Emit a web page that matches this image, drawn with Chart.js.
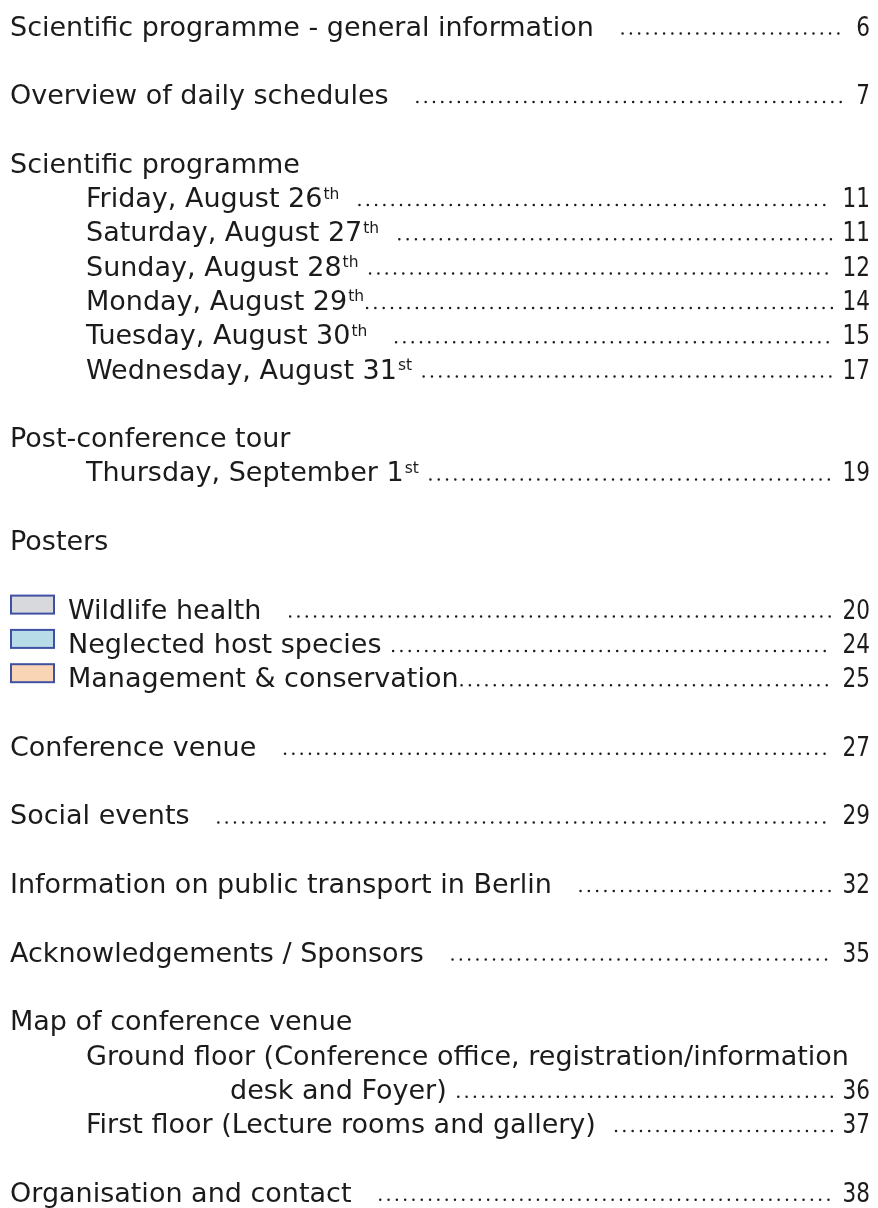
<!DOCTYPE html>
<html>
<head>
<meta charset="utf-8">
<script src="https://cdn.jsdelivr.net/npm/chart.js@4.4.0/dist/chart.umd.min.js"></script>
<style>
  html, body { margin: 0; padding: 0; background: #fff; }
  #wrap { width: 878px; height: 1208px; }
</style>
</head>
<body>
<div id="wrap"><canvas id="toc" width="878" height="1208"></canvas></div>
<script>
// table of contents entries; {..} marks a superscript, trailing spaces give the gap before the dot leader
const entries = [
    'Scientific programme - general information   ',
    'Overview of daily schedules   ',
    'Scientific programme',
    'Friday, August 26{th}  ',
    'Saturday, August 27{th}  ',
    'Sunday, August 28{th} ',
    'Monday, August 29{th}',
    'Tuesday, August 30{th}   ',
    'Wednesday, August 31{st} ',
    'Post-conference tour',
    'Thursday, September 1{st} ',
    'Posters',
    'Wildlife health   ',
    'Neglected host species ',
    'Management & conservation',
    'Conference venue   ',
    'Social events   ',
    'Information on public transport in Berlin   ',
    'Acknowledgements / Sponsors   ',
    'Map of conference venue',
    'Ground floor (Conference office, registration/information',
    'desk and Foyer) ',
    'First floor (Lecture rooms and gallery)  ',
    'Organisation and contact   '
];
const pages = ['6', '7', '', '11', '11', '12', '14', '15', '17', '', '19', '', '20', '24', '25', '27', '29', '32', '35', '', '', '36', '37', '38'];
// 0 = heading, 1 = indented item, 2 = continuation line, 3 = poster category with swatch
const levels = [0, 0, 0, 1, 1, 1, 1, 1, 1, 0, 1, 0, 3, 3, 3, 0, 0, 0, 0, 0, 1, 2, 1, 0];
const rows = [0, 2, 4, 5, 6, 7, 8, 9, 10, 12, 13, 15, 17, 18, 19, 21, 23, 25, 27, 29, 30, 31, 32, 34];
const swatchColors = { 12: '#d8d9dc', 13: '#b8dde8', 14: '#fad5b5' };

const INDENT = [10, 86, 230, 68];
const FONT = "'Century Gothic', 'DejaVu Sans', sans-serif";
const INK = '#1b1b1b';
const PITCH = 34.3;
const TOP = 35.5;

const tocPlugin = {
    id: 'toc',
    afterDatasetsDraw(chart) {
        const ctx = chart.ctx;
        const xs = chart.scales.x;
        const meta = chart.getDatasetMeta(0);
        const numRight = xs.getPixelForValue(870);
        ctx.save();
        ctx.fillStyle = INK;
        ctx.textBaseline = 'alphabetic';
        meta.data.forEach((pt, i) => {
            const y = pt.y;
            let x = INDENT[levels[i]];
            if (swatchColors[i]) {
                ctx.fillStyle = swatchColors[i];
                ctx.fillRect(11, y - 23, 43, 18);
                ctx.strokeStyle = '#4050a2';
                ctx.lineWidth = 2;
                ctx.strokeRect(11, y - 23, 43, 18);
                ctx.fillStyle = INK;
            }
            // text runs with superscripts
            const parts = entries[i].split(/\{([^}]*)\}/);
            parts.forEach((part, j) => {
                if (!part) return;
                if (j % 2 === 1) {
                    ctx.font = '15.5px ' + FONT;
                    ctx.fillText(part, x + 1, y - 8.5);
                    x += ctx.measureText(part).width + 1;
                } else {
                    ctx.font = '27px ' + FONT;
                    ctx.fillText(part, x, y);
                    x += ctx.measureText(part).width;
                }
            });
            if (pages[i]) {
                // page numbers are set a little narrower
                ctx.font = '27px ' + FONT;
                const w = ctx.measureText(pages[i]).width * 0.8;
                ctx.save();
                ctx.translate(numRight - w, y);
                ctx.scale(0.8, 1);
                ctx.fillText(pages[i], 0, 0);
                ctx.restore();
                const numLeft = numRight - w;
                ctx.beginPath();
                ctx.setLineDash([0, 8.3]);
                ctx.lineCap = 'round';
                ctx.lineWidth = 2.5;
                ctx.strokeStyle = INK;
                ctx.moveTo(x + 3, y - 2);
                ctx.lineTo(numLeft - 10, y - 2);
                ctx.stroke();
                ctx.setLineDash([]);
            }
        });
        ctx.restore();
    }
};

new Chart(document.getElementById('toc'), {
    type: 'scatter',
    data: {
        datasets: [{
            data: rows.map((r, i) => ({ x: INDENT[levels[i]], y: r })),
            pointRadius: 0,
            pointHoverRadius: 0
        }]
    },
    options: {
        responsive: false,
        animation: false,
        layout: { padding: 0 },
        plugins: { legend: { display: false }, tooltip: { enabled: false } },
        events: [],
        scales: {
            x: { type: 'linear', min: 0, max: 878, display: false },
            // one row = PITCH px, row 0 baseline at TOP px
            y: { type: 'linear', min: -TOP / PITCH, max: (1208 - TOP) / PITCH, reverse: true, display: false }
        }
    },
    plugins: [tocPlugin]
});
</script>
</body>
</html>
